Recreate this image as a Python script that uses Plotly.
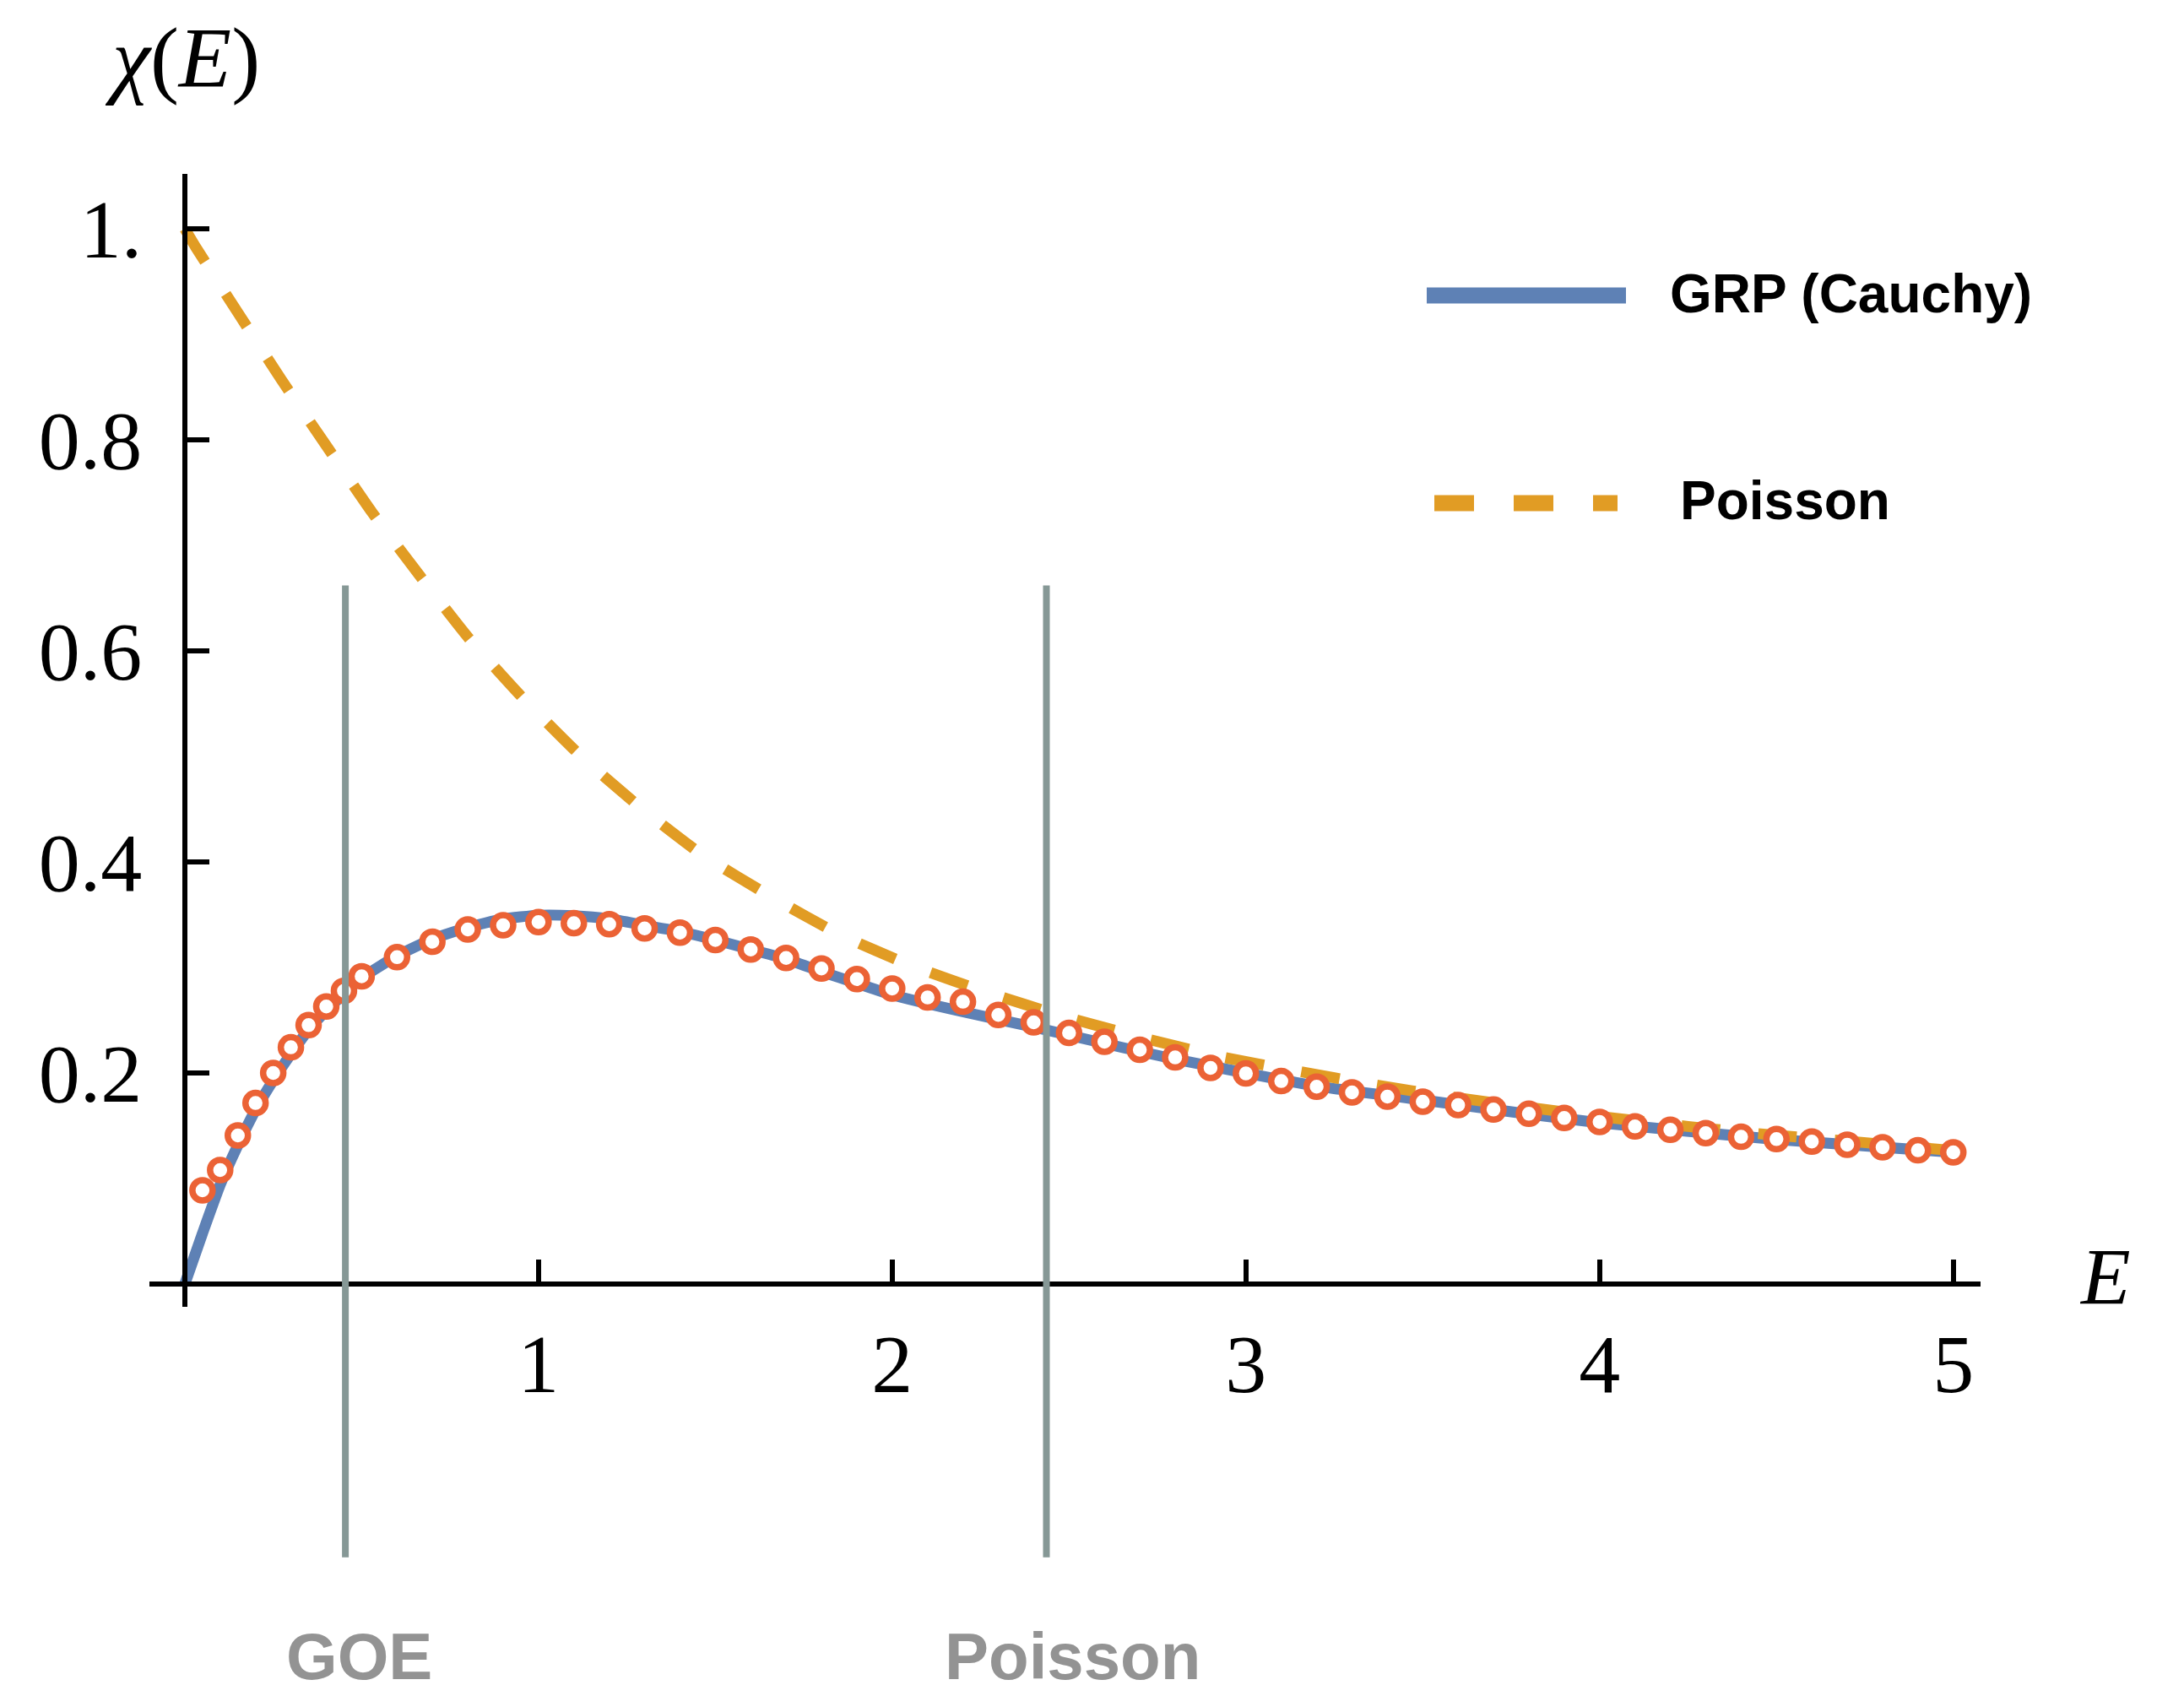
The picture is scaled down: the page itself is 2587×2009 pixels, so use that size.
import plotly.graph_objects as go

# ---------------- data ----------------
marker_E = [0.05, 0.10, 0.15, 0.20, 0.25, 0.30, 0.35, 0.40, 0.45, 0.50,
            0.6, 0.7, 0.8, 0.9, 1.0, 1.1, 1.2, 1.3, 1.4, 1.5, 1.6, 1.7, 1.8, 1.9,
            2.0, 2.1, 2.2, 2.3, 2.4, 2.5, 2.6, 2.7, 2.8, 2.9, 3.0, 3.1, 3.2, 3.3,
            3.4, 3.5, 3.6, 3.7, 3.8, 3.9, 4.0, 4.1, 4.2, 4.3, 4.4, 4.5, 4.6, 4.7,
            4.8, 4.9, 5.0]
marker_chi = [0.0888, 0.108, 0.1408, 0.1715, 0.200, 0.2243, 0.2453, 0.263, 0.2778, 0.2916,
              0.3097, 0.3244, 0.336, 0.340, 0.343, 0.342, 0.341, 0.337, 0.333, 0.326,
              0.317, 0.309, 0.299, 0.289, 0.280, 0.2715, 0.2675, 0.255, 0.248, 0.238,
              0.2296, 0.222, 0.2147, 0.2048, 0.1995, 0.1923, 0.187, 0.1816, 0.1776, 0.1728,
              0.1696, 0.1653, 0.1613, 0.1573, 0.1536, 0.1493, 0.1461, 0.143, 0.1395, 0.1373,
              0.135, 0.132, 0.1296, 0.1267, 0.1248]

grp_E = [0.0, 0.05, 0.10, 0.15, 0.20, 0.25, 0.30, 0.35, 0.40, 0.45, 0.50, 0.6, 0.7, 0.8,
         0.9, 1.0, 1.1, 1.2, 1.3, 1.4, 1.5, 1.6, 1.7, 1.8, 1.9, 2.0, 2.2, 2.4, 2.6, 2.8,
         3.0, 3.2, 3.5, 3.8, 4.0, 4.5, 5.0]
grp_chi = [0.0, 0.048, 0.094, 0.1315, 0.165, 0.193, 0.218, 0.241, 0.259, 0.275, 0.290,
           0.311, 0.327, 0.338, 0.346, 0.3495, 0.349, 0.346, 0.340, 0.334, 0.326, 0.317,
           0.308, 0.296, 0.285, 0.274, 0.258, 0.2435, 0.228, 0.213, 0.200, 0.1875,
           0.1744, 0.161, 0.1528, 0.137, 0.1248]

poisson_E = [0.0, 0.032, 0.151, 0.273, 0.401, 0.530, 0.665, 0.803, 0.951, 1.113, 1.283,
             1.462, 1.663, 1.850, 2.055, 2.269, 2.485, 2.700, 2.919, 3.139, 3.360, 3.586,
             3.808, 4.030, 4.250, 4.476, 4.700, 4.916, 5.0]
poisson_chi = [1.0, 0.982, 0.920, 0.857, 0.794, 0.731, 0.671, 0.612, 0.557, 0.5025, 0.453,
               0.407, 0.366, 0.3315, 0.3016, 0.2763, 0.2536, 0.2341, 0.216, 0.2021, 0.189,
               0.1771, 0.167, 0.1576, 0.1493, 0.1416, 0.1355, 0.129, 0.1265]

x_ticks = [1, 2, 3, 4, 5]
x_ticklabels = ["1", "2", "3", "4", "5"]
y_ticks = [0.2, 0.4, 0.6, 0.8, 1.0]
y_ticklabels = ["0.2", "0.4", "0.6", "0.8", "1."]

regime_E = [0.454, 2.436]          # vertical guide lines
regime_span = [-0.259, 0.662]      # their vertical extent (chi units)
regime_labels = ["GOE", "Poisson"]
regime_label_E = [0.493, 2.509]

legend_labels = ["GRP (Cauchy)", "Poisson"]

# ---------------- styles ----------------
BLUE = "#5E81B5"
ORANGE = "#E19C24"
RED = "#EB6235"
GRAY_LINE = "#869896"
GRAY_TEXT = "#939393"
SERIF = "Liberation Serif"
SANS = "Liberation Sans"

OFF = 8                      # default page (body) margin of the html page
W, H = 2587 - OFF, 2009 - OFF
L, R, T, B = 169, 241, 198, 461
PW, PH = W - L - R, H - T - B
XR = [-0.1, 5.077]
YR = [-0.0216, 1.052]


def px_x(X):
    """window pixel x -> paper x"""
    return (X - OFF - L) / PW


def px_y(Y):
    """window pixel y -> paper y"""
    return (H - B - (Y - OFF)) / PH


def data_to_paper_y(v):
    return (v - YR[0]) / (YR[1] - YR[0])


fig = go.Figure()

fig.add_trace(go.Scatter(x=grp_E, y=grp_chi, mode="lines",
                         line=dict(color=BLUE, width=13, shape="spline", smoothing=0.5),
                         showlegend=False, name=legend_labels[0]))
fig.add_trace(go.Scatter(x=poisson_E, y=poisson_chi, mode="lines",
                         line=dict(color=ORANGE, width=13, dash="46px,45px",
                                   shape="spline", smoothing=0.5),
                         showlegend=False, name=legend_labels[1]))
fig.add_trace(go.Scatter(x=marker_E, y=marker_chi, mode="markers",
                         marker=dict(symbol="circle", size=24, color="white",
                                     line=dict(color=RED, width=7.5)),
                         showlegend=False, cliponaxis=False))

shapes = []
for e in regime_E:
    shapes.append(dict(type="line", xref="x", yref="paper", x0=e, x1=e,
                       y0=data_to_paper_y(regime_span[0]), y1=data_to_paper_y(regime_span[1]),
                       line=dict(color=GRAY_LINE, width=8), layer="above"))

# manual legend
shapes.append(dict(type="line", xref="paper", yref="paper",
                   x0=px_x(1690), x1=px_x(1926), y0=px_y(350), y1=px_y(350),
                   line=dict(color=BLUE, width=19)))
shapes.append(dict(type="line", xref="paper", yref="paper",
                   x0=px_x(1699), x1=px_x(1916), y0=px_y(596), y1=px_y(596),
                   line=dict(color=ORANGE, width=19, dash="47px,47px")))

annotations = []
annotations.append(dict(text=legend_labels[0], xref="paper", yref="paper",
                        x=px_x(1976), y=px_y(348), xanchor="left", yanchor="middle",
                        showarrow=False, font=dict(family=SANS, size=64, color="black",
                                                   weight="bold")))
annotations.append(dict(text=legend_labels[1], xref="paper", yref="paper",
                        x=px_x(1988), y=px_y(593), xanchor="left", yanchor="middle",
                        showarrow=False, font=dict(family=SANS, size=64, color="black",
                                                   weight="bold")))
for lab, e in zip(regime_labels, regime_label_E):
    annotations.append(dict(text=lab, xref="x", yref="paper", x=e, y=px_y(1962),
                            xanchor="center", yanchor="middle", showarrow=False,
                            borderpad=0,
                            font=dict(family=SANS, size=78, color=GRAY_TEXT, weight="bold")))

annotations.append(dict(text="<i>χ</i>(<i>E</i>)", xref="paper", yref="paper",
                        x=px_x(216), y=px_y(68), xanchor="center", yanchor="middle",
                        showarrow=False, borderpad=0,
                        font=dict(family=SERIF, size=102, color="black")))
annotations.append(dict(text="<i>E</i>", xref="paper", yref="paper",
                        x=px_x(2493), y=px_y(1512), xanchor="center", yanchor="middle",
                        showarrow=False, font=dict(family=SERIF, size=96, color="black")))

fig.update_layout(
    width=W, height=H,
    margin=dict(l=L, r=R, t=T, b=B, pad=0, autoexpand=False),
    paper_bgcolor="white", plot_bgcolor="white",
    showlegend=False,
    shapes=shapes, annotations=annotations,
    xaxis=dict(range=XR, anchor="free", position=data_to_paper_y(0),
               showline=True, linecolor="black", linewidth=6,
               ticks="inside", ticklen=26, tickwidth=6, tickcolor="black",
               tickmode="array", tickvals=x_ticks, ticktext=x_ticklabels,
               tickfont=dict(family=SERIF, size=98, color="black"),
               ticklabelstandoff=7, automargin=False,
               showgrid=False, zeroline=False),
    yaxis=dict(range=YR, anchor="free", position=(0 - XR[0]) / (XR[1] - XR[0]),
               showline=True, linecolor="black", linewidth=6,
               ticks="inside", ticklen=26, tickwidth=6, tickcolor="black",
               tickmode="array", tickvals=y_ticks, ticktext=y_ticklabels,
               tickfont=dict(family=SERIF, size=98, color="black"),
               ticklabelstandoff=28, automargin=False,
               showgrid=False, zeroline=False),
)

fig.write_html("out.html")
